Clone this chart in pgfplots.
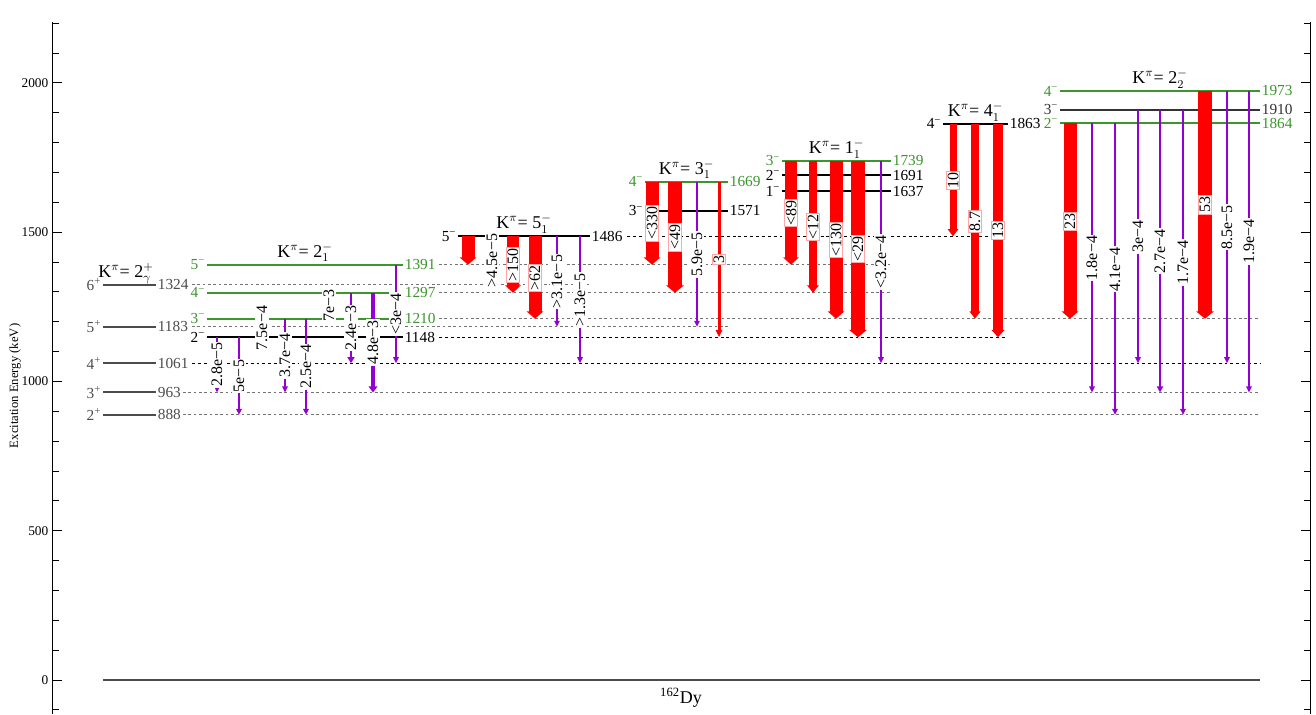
\documentclass[border=0pt]{standalone}
\usepackage{fontspec}
\setmainfont{Liberation Serif}
\usepackage{pgfplots}
\pgfplotsset{compat=1.18}
\usetikzlibrary{arrows.meta}

\definecolor{lvgreen}{RGB}{60,150,45}
\definecolor{gpurple}{RGB}{148,0,211}
\newcommand\lfont{\fontsize{11.5}{11.5}\selectfont}
\newcommand\gfont{\fontsize{12}{12}\selectfont}
\newcommand\kfont{\fontsize{13.5}{13.5}\selectfont}

\tikzset{
  gl/.style={rotate=90, fill=white, text=black, inner sep=0.9pt, font=\gfont, line width=0.4pt},
  rl/.style={draw=red!35},
  fdk/.style={black, line width=0.75pt, dash pattern=on 2.2pt off 2.2pt},
  fgy/.style={black!55, line width=0.75pt, dash pattern=on 2pt off 2pt},
}

% level line: colour, x1, x2, energy, spin
\newcommand\level[5]{%
  \addplot[#1, line width=1.5pt] coordinates {(#2,#4) (#3,#4)};
  \node[text=#1, anchor=east, font=\lfont, inner xsep=1.2pt, inner ysep=0.3pt] at (axis cs:#2,#4) {#5};
  \node[text=#1, anchor=west, font=\lfont, inner xsep=1.2pt, inner ysep=0.3pt] at (axis cs:#3,#4) {#4};
}
% feeding line to the right: style, x1, x2, energy
\newcommand\feed[4]{\addplot[#1] coordinates {(#2,#4) (#3,#4)};}
% purple transition: x, Ei, Ef, width, label
\newcommand\gp[5]{%
  \addplot[gpurple, line width=#4, -{Triangle[width=3pt 1, length=4.5pt]}]
    coordinates {(#1,#2) (#1,#3)} node[gl, pos=0.5] {#5};
}
% red transition: x, Ei, Ef, width, label
\newcommand\gr[5]{%
  \addplot[red, line width=#4, -{Triangle[width=2.5pt 1, length=5.5pt]}]
    coordinates {(#1,#2) (#1,#3)} node[gl, rl, pos=0.5] {#5};
}
% band title: x centre, top energy, text
\newcommand\band[3]{%
  \node[font=\kfont, anchor=base, yshift=5.6pt, inner sep=0pt] at (axis cs:#1,#2) {#3};
}
\newcommand\m{\textsuperscript{−}}
\newcommand\p{\textsuperscript{+}}

\begin{document}
\begin{tikzpicture}
\begin{axis}[
  scale only axis,
  width=942.75pt, height=519pt,
  xmin=53, xmax=1310, ymin=-114, ymax=2204,
  axis x line=none, axis y line=box,
  xtick=\empty,
  ytick={0,500,1000,1500,2000},
  minor ytick={-100,100,200,300,400,600,700,800,900,1100,1200,1300,1400,1600,1700,1800,1900,2100,2200},
  yticklabel pos=left,
  tick align=inside,
  major tick length=6.5pt, minor tick length=4.5pt,
  every tick/.style={black, line width=0.6pt},
  axis line style={black, line width=0.75pt},
  ticklabel style={font=\fontsize{10}{10}\selectfont},
  /pgf/number format/assume math mode=true,
  /pgf/number format/1000 sep={},
  clip=false,
]

% ground state
\addplot[black!70, line width=1.2pt] coordinates {(103,0) (1260,0)};
\node[font=\kfont, anchor=base] at (axis cs:681,-78) {\textsuperscript{162}Dy};
\node[font=\fontsize{9.5}{9.5}\selectfont, rotate=90] at (axis cs:15,985) {Excitation Energy (keV)};

% feeding lines towards the higher bands
\feed{fgy}{183}{1260}{888}
\feed{fgy}{183}{1260}{963}
\feed{fdk}{192}{1260}{1061}
\feed{fgy}{192}{730}{1183}
\feed{fgy}{192}{590}{1324}
\feed{fdk}{439}{1008}{1148}
\feed{fgy}{439}{1260}{1210}
\feed{fgy}{439}{891}{1297}
\feed{fgy}{439}{891}{1391}
\feed{fdk}{627}{1008}{1486}

% K = 2 gamma band
\level{black!70}{103}{156}{888}{2\p}
\level{black!70}{103}{156}{963}{3\p}
\level{black!70}{103}{156}{1061}{4\p}
\level{black!70}{103}{156}{1183}{5\p}
\level{black!70}{103}{156}{1324}{6\p}
\band{126}{1324}{K$^{\pi}$= 2$^{+}_{\gamma}$}

% K = 2_1^- band
\level{black}{207}{403}{1148}{2\m}
\level{lvgreen}{207}{403}{1210}{3\m}
\level{lvgreen}{207}{403}{1297}{4\m}
\level{lvgreen}{207}{403}{1391}{5\m}
\band{305}{1391}{K$^{\pi}$= 2$^{-}_{1}$}

% K = 5_1^- band
\level{black}{458}{590}{1486}{5\m}
\band{524}{1486}{K$^{\pi}$= 5$^{-}_{1}$}

% K = 3_1^- band
\level{black}{645}{728}{1571}{3\m}
\level{lvgreen}{645}{728}{1669}{4\m}
\band{686.5}{1669}{K$^{\pi}$= 3$^{-}_{1}$}

% K = 1_1^- band
\level{black}{782}{891}{1637}{1\m}
\level{black}{782}{891}{1691}{2\m}
\level{lvgreen}{782}{891}{1739}{3\m}
\band{836.5}{1739}{K$^{\pi}$= 1$^{-}_{1}$}

% K = 4_1^- band
\level{black}{943}{1008}{1863}{4\m}
\band{975.5}{1863}{K$^{\pi}$= 4$^{-}_{1}$}

% K = 2_2^- band
\level{lvgreen}{1060}{1260}{1864}{2\m}
\level{black!80}{1060}{1260}{1910}{3\m}
\level{lvgreen}{1060}{1260}{1973}{4\m}
\band{1160}{1973}{K$^{\pi}$= 2$^{-}_{2}$}

% transitions out of K = 2_1^-
\gp{217}{1148}{963}{1.1pt}{2.8e−5}
\gp{239}{1148}{888}{1.1pt}{5e−5}
\gp{262}{1210}{1148}{1.1pt}{7.5e−4}
\gp{285}{1210}{963}{1.1pt}{3.7e−4}
\gp{306}{1210}{888}{1.1pt}{2.5e−4}
\gp{329}{1297}{1210}{3pt}{7e−3}
\gp{351}{1297}{1061}{2.2pt}{2.4e−3}
\gp{373}{1297}{963}{3.4pt}{4.8e−3}
\gp{396}{1391}{1061}{1.1pt}{<3e−4}

% transitions out of K = 5_1^-
\addplot[red, line width=9.75pt, -{Triangle[width=2.5pt 1, length=5.5pt]}]
  coordinates {(468,1486) (468,1391)};
\gp{492}{1486}{1324}{1.1pt}{>4.5e−5}
\gr{513}{1486}{1297}{9pt}{>150}
\gr{535}{1486}{1210}{9.75pt}{>62}
\gp{557}{1486}{1183}{1.1pt}{>3.1e−5}
\gp{580}{1486}{1061}{1.1pt}{>1.3e−5}

% transitions out of K = 3_1^-
\gr{652}{1669}{1391}{9.75pt}{<330}
\gr{675}{1669}{1297}{10.5pt}{<49}
\gp{697}{1669}{1183}{1.1pt}{5.9e−5}
\gr{719}{1669}{1148}{2.25pt}{3}

% transitions out of K = 1_1^-
\gr{791}{1739}{1391}{9pt}{<89}
\gr{813}{1739}{1297}{6pt}{<12}
\gr{836}{1739}{1210}{9.75pt}{<130}
\gr{858}{1739}{1148}{10.5pt}{<29}
\gp{881}{1739}{1061}{1.1pt}{<3.2e−4}

% transitions out of K = 4_1^-
\gr{953}{1863}{1486}{5.25pt}{10}
\gr{975}{1863}{1210}{5.5pt}{8.7}
\gr{998}{1863}{1148}{7pt}{13}

% transitions out of K = 2_2^-
\gr{1070}{1864}{1210}{9.75pt}{23}
\gp{1092}{1864}{963}{1.1pt}{1.8e−4}
\gp{1115}{1864}{888}{1.1pt}{4.1e−4}
\gp{1138}{1910}{1061}{1.1pt}{3e−4}
\gp{1160}{1910}{963}{1.5pt}{2.7e−4}
\gp{1183}{1910}{888}{1.1pt}{1.7e−4}
\gr{1205}{1973}{1210}{10.5pt}{53}
\gp{1227}{1973}{1061}{1.1pt}{8.5e−5}
\gp{1249}{1973}{963}{1.1pt}{1.9e−4}

\end{axis}
\pgfresetboundingbox
\path[use as bounding box] ([xshift=-39.75pt]current axis.south west)
  rectangle ([xshift=4.5pt, yshift=16.5pt]current axis.north east);
\end{tikzpicture}
\end{document}
